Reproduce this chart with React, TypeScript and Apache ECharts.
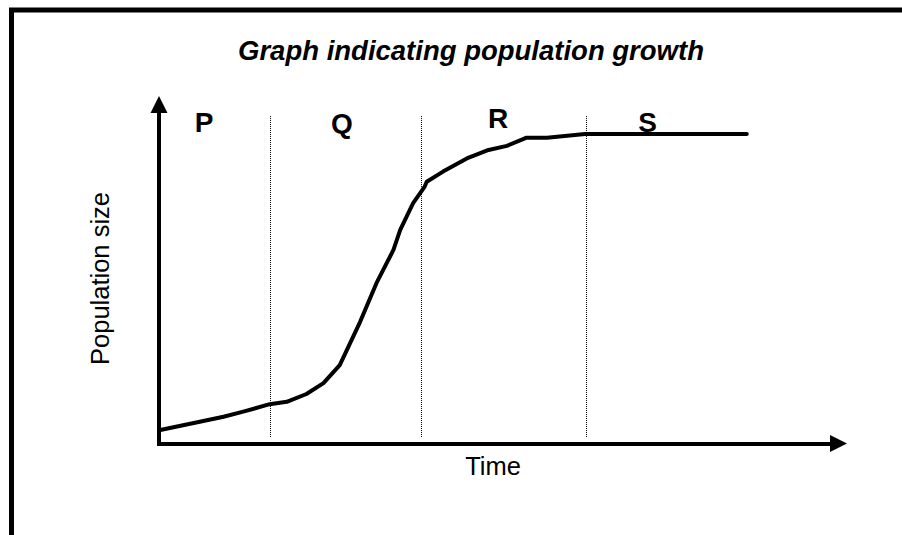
import React, { useEffect, useRef } from "react";
import * as echarts from "echarts";

// Time (x) and population size (y), in arbitrary units (0-100)
const timeValues = [0.2, 6.0, 9.5, 12.4, 16.3, 18.8, 21.7, 24.2, 26.6, 29.6, 32.0, 34.5, 35.5, 37.4, 39.1, 39.4, 41.8, 45.3, 48.5, 51.2, 54.1, 57.1, 62.7, 86.5];
const populationValues = [4.0, 6.4, 7.9, 9.4, 11.6, 12.3, 14.6, 17.8, 23.1, 35.9, 47.3, 57.1, 63.0, 70.9, 75.8, 77.2, 80.2, 84.1, 86.6, 87.8, 90.2, 90.2, 91.3, 91.3];

// Phase boundaries (time) and phase names
const phaseBoundaries = [16.41, 38.56, 62.84];
const phaseNames = ["P", "Q", "R", "S"];
const dividerRange = [1.9, 96.6];

const titleText = "Graph indicating population growth";
const xName = "Time";
const yName = "Population size";

export default function App() {
  const ref = useRef<HTMLDivElement>(null);

  useEffect(() => {
    if (!ref.current) return;
    const chart = echarts.init(ref.current, null, { renderer: "svg" });
    const font = '"Liberation Sans", Arial, sans-serif';
    const phasePos = [
      [204, 122.5],
      [342, 123],
      [498, 118.5],
      [647.5, 122],
    ];
    const axisLine = {
      show: true,
      symbol: ["none", "triangle"],
      symbolSize: [17, 17],
      lineStyle: { color: "#000", width: 4, cap: "square" },
    };
    chart.setOption({
      animation: false,
      backgroundColor: "#fff",
      grid: { left: 159, right: 63.5, top: 104.5, bottom: 91.5 },
      xAxis: {
        type: "value",
        min: 0,
        max: 100,
        axisLine,
        axisTick: { show: false },
        axisLabel: { show: false },
        splitLine: { show: false },
      },
      yAxis: {
        type: "value",
        min: 0,
        max: 100,
        axisLine,
        axisTick: { show: false },
        axisLabel: { show: false },
        splitLine: { show: false },
      },
      series: [
        {
          type: "line",
          data: timeValues.map((t, i) => [t, populationValues[i]]),
          showSymbol: false,
          symbol: "none",
          lineStyle: { color: "#000", width: 4, cap: "round", join: "round" },
          silent: true,
          z: 3,
          markLine: {
            silent: true,
            symbol: ["none", "none"],
            label: { show: false },
            lineStyle: { color: "#000", width: 1, type: [1, 1] },
            data: phaseBoundaries.map((b) => [
              { coord: [b, dividerRange[0]] },
              { coord: [b, dividerRange[1]] },
            ]),
          },
        },
      ],
      graphic: [
        {
          type: "rect",
          shape: { x: 11.5, y: 10, width: 2000, height: 2000 },
          style: { fill: "none", stroke: "#000", lineWidth: 5 },
          silent: true,
        },
        {
          type: "text",
          x: 471,
          y: 50.5,
          style: {
            text: titleText,
            font: `italic bold 27.5px ${font}`,
            fill: "#000",
            align: "center",
            textAlign: "center",
            verticalAlign: "middle",
            textVerticalAlign: "middle",
          },
        },
        ...phaseNames.map((n, i) => ({
          type: "text",
          x: phasePos[i][0],
          y: phasePos[i][1],
          style: {
            text: n,
            font: `bold 28px ${font}`,
            fill: "#000",
            align: "center",
            textAlign: "center",
            verticalAlign: "middle",
            textVerticalAlign: "middle",
          },
        })),
        {
          type: "text",
          x: 493,
          y: 466,
          style: {
            text: xName,
            font: `25.5px ${font}`,
            fill: "#000",
            align: "center",
            textAlign: "center",
            verticalAlign: "middle",
            textVerticalAlign: "middle",
          },
        },
        {
          type: "text",
          x: 100,
          y: 278.5,
          rotation: Math.PI / 2,
          style: {
            text: yName,
            font: `25.5px ${font}`,
            fill: "#000",
            align: "center",
            textAlign: "center",
            verticalAlign: "middle",
            textVerticalAlign: "middle",
          },
        },
      ],
    });
    return () => chart.dispose();
  }, []);

  return (
    <div
      ref={ref}
      style={{ position: "fixed", left: 0, top: 0, width: 902, height: 535, background: "#fff" }}
    />
  );
}
